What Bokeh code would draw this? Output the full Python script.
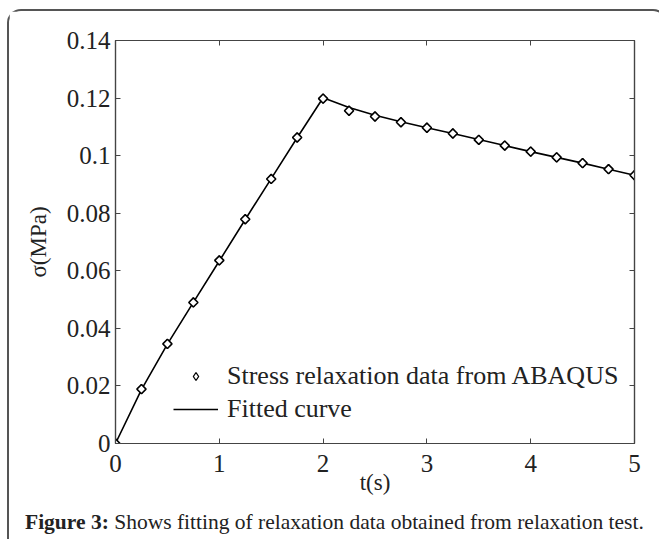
import math
from bokeh.plotting import figure
from bokeh.layouts import column
from bokeh.models import (Range1d, LinearAxis, FixedTicker, Legend, LegendItem, Div)
from bokeh.embed import file_html
from bokeh.resources import INLINE

# ---- data ----
t_data = [0, 0.25, 0.5, 0.75, 1.0, 1.25, 1.5, 1.75, 2.0,
          2.25, 2.5, 2.75, 3.0, 3.25, 3.5, 3.75, 4.0, 4.25, 4.5, 4.75, 5.0]
sigma_data = [0.0, 0.0189, 0.0346, 0.0490, 0.0636, 0.0779, 0.0919, 0.1063, 0.1198,
              0.1156, 0.1136, 0.1116, 0.1097, 0.1077, 0.1055, 0.1035, 0.1014,
              0.0994, 0.0974, 0.0953, 0.0932]

t_fit = [0, 0.25, 0.5, 0.75, 1.0, 1.25, 1.5, 1.75, 2.0,
         2.25, 2.5, 2.75, 3.0, 3.25, 3.5, 3.75, 4.0, 4.25, 4.5, 4.75, 5.0]
sigma_fit = [0.0, 0.0187, 0.0345, 0.0490, 0.0634, 0.0778, 0.0920, 0.1062, 0.1201,
             0.1167, 0.1140, 0.1118, 0.1097, 0.1077, 0.1056, 0.1035, 0.1014,
             0.0994, 0.0974, 0.0953, 0.0932]

x_ticks = [0, 1, 2, 3, 4, 5]
y_ticks = [0, 0.02, 0.04, 0.06, 0.08, 0.10, 0.12, 0.14]
y_tick_labels = ["0", "0.02", "0.04", "0.06", "0.08", "0.1", "0.12", "0.14"]

legend_labels = ["Stress relaxation data from ABAQUS", "Fitted curve"]
x_label = "t(s)"
y_label = "σ(MPa)"
caption_bold = "Figure 3:"
caption_text = "Shows fitting of relaxation data obtained from relaxation test."

FONT = "Liberation Serif"
AX = "#444444"
TXT = "#222222"

p = figure(width=646, height=495, output_backend="svg", toolbar_location=None,
           x_range=Range1d(0, 5), y_range=Range1d(0, 0.14),
           min_border_left=106, min_border_right=21, min_border_top=29,
           min_border_bottom=63)

p.grid.visible = False
p.outline_line_color = AX
p.outline_line_width = 1.2

ln = p.line(t_fit, sigma_fit, line_color="black", line_width=1.6)
# diamond glyph used for the legend key; drawn beneath the data markers
key = p.scatter(t_data, sigma_data, marker="diamond", size=9, fill_color="white",
                line_color="black", line_width=1.3)
sc = p.scatter(t_data, sigma_data, marker="square", angle=math.pi / 4, size=6.5,
               fill_color="white", line_color="black", line_width=1.6)

def style_axis(ax, ticks, show_labels):
    ax.ticker = FixedTicker(ticks=ticks)
    ax.minor_tick_line_color = None
    ax.major_tick_in = 5
    ax.major_tick_out = 0
    ax.major_tick_line_color = AX
    ax.axis_line_color = AX
    ax.axis_line_width = 1.2
    if show_labels:
        ax.major_label_text_font = FONT
        ax.major_label_text_font_size = "25px"
        ax.major_label_text_color = TXT
    else:
        ax.major_label_overrides = {t: "" for t in ticks}
        ax.major_label_text_font_size = "1px"
        ax.major_label_standoff = 0

xa = p.xaxis[0]
ya = p.yaxis[0]
style_axis(xa, x_ticks, True)
style_axis(ya, y_ticks, True)
ya.major_label_overrides = {v: s for v, s in zip(y_ticks, y_tick_labels)}
xa.major_label_standoff = 11
ya.major_label_standoff = 5
xa.axis_label = x_label
ya.axis_label = y_label
for ax in (xa, ya):
    ax.axis_label_text_font = FONT
    ax.axis_label_text_font_size = "23px"
    ax.axis_label_text_font_style = "normal"
    ax.axis_label_text_color = TXT
xa.axis_label_standoff = -5
ya.axis_label_standoff = 13

top = LinearAxis()
right = LinearAxis()
style_axis(top, x_ticks, False)
style_axis(right, y_ticks, False)
p.add_layout(top, "above")
p.add_layout(right, "right")

legend = Legend(items=[LegendItem(label=legend_labels[0], renderers=[key]),
                       LegendItem(label=legend_labels[1], renderers=[ln])],
                location=(58, 19), padding=0, margin=0, spacing=3,
                glyph_width=45, glyph_height=20, label_standoff=9,
                label_text_font=FONT, label_text_font_size="26px",
                label_text_color=TXT,
                border_line_alpha=0, background_fill_alpha=0)
p.add_layout(legend, "center")

cap = Div(text=f"<b>{caption_bold}</b> {caption_text}", width=646, height=30,
          styles={"font-family": FONT, "font-size": "21.5px", "color": TXT,
                  "padding-left": "11px", "white-space": "nowrap",
                  "line-height": "22px"})

layout = column(p, cap, spacing=0,
                styles={"margin": "9px 0 0 7px",
                        "border-top": "2px solid #555555",
                        "border-left": "2px solid #555555",
                        "border-right": "2px solid #555555",
                        "border-top-left-radius": "14px",
                        "border-top-right-radius": "14px"})

open("out.html", "w").write(file_html(layout, INLINE))
